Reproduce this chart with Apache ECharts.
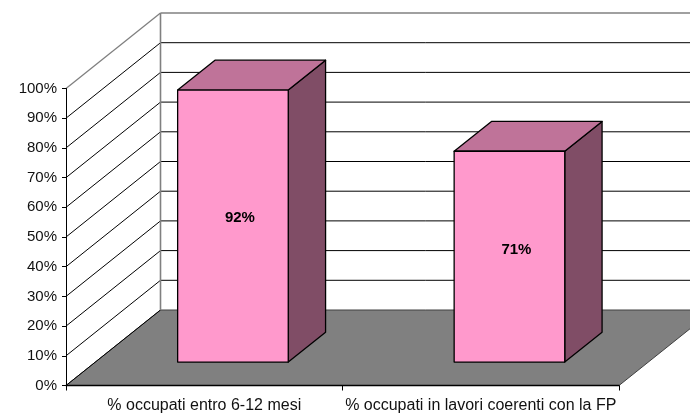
<!DOCTYPE html>
<html>
<head>
<meta charset="utf-8">
<style>
  html, body { margin: 0; padding: 0; background: #fff; }
  #chart { width: 690px; height: 414px; }
</style>
<script src="https://cdn.jsdelivr.net/npm/echarts@6/dist/echarts.min.js"></script>
</head>
<body>
<div id="chart"></div>
<script>
const categories = ['% occupati entro 6-12 mesi', '% occupati in lavori coerenti con la FP']
const percentages = [91.6, 71]
const yTicks = [0, 10, 20, 30, 40, 50, 60, 70, 80, 90, 100]

// proiezione 3D in stile Excel
const DEPTH_X = 94.5
const DEPTH_Y = -75.5
const BAR_WIDTH = 0.4
const BAR_SHIFT = -0.6
const BAR_Z_START = 0.31
const BAR_Z_END = 0.705
const FONT = '"Liberation Sans", Arial, sans-serif'

const chart = echarts.init(document.getElementById('chart'), null, { renderer: 'canvas' })

function shift(p, z) {
  return [p[0] + DEPTH_X * z, p[1] + DEPTH_Y * z]
}

function line(a, b, stroke, lineWidth) {
  return {
    type: 'line',
    shape: { x1: a[0], y1: a[1], x2: b[0], y2: b[1] },
    style: { stroke, lineWidth }
  }
}

function poly(points, fill) {
  return {
    type: 'polygon',
    shape: { points },
    style: { fill, stroke: '#000', lineWidth: 1.3, lineJoin: 'round' }
  }
}

function renderFloor(params, api) {
  const a = api.coord([0, 0])
  a[0] -= api.size([1, 0])[0] / 2
  const b = [a[0] + api.size([1, 0])[0] * categories.length, a[1]]
  return {
    type: 'polygon',
    shape: { points: [a, b, shift(b, 1), shift(a, 1)] },
    style: { fill: '#808080', stroke: '#404040', lineWidth: 1 }
  }
}

function renderWall(params, api) {
  const tick = api.value(1)
  const band = api.size([1, 0])[0]
  const a = api.coord([0, tick])
  a[0] -= band / 2
  const b = [a[0] + band * categories.length, a[1]]
  const color = tick === 100 ? '#808080' : '#000'
  const width = tick === 100 ? 1.3 : 1
  const children = [line(a, shift(a, 1), color, width)]
  if (tick > 0) children.push(line(shift(a, 1), shift(b, 1), color, width))
  if (tick === 100) {
    const base = api.coord([0, 0])
    base[0] -= band / 2
    children.push(line(shift(base, 1), shift(a, 1), '#808080', 1.6))
  }
  return { type: 'group', children }
}

function renderBar(params, api) {
  const band = api.size([1, 0])[0]
  const w = band * BAR_WIDTH
  const value = api.value(1)
  const bottom = api.coord([api.value(0), 0])
  const top = api.coord([api.value(0), value])
  const left = bottom[0] - w / 2 + BAR_SHIFT
  const fbl = shift([left, bottom[1]], BAR_Z_START)
  const fbr = shift([left + w, bottom[1]], BAR_Z_START)
  const ftl = shift([left, top[1]], BAR_Z_START)
  const ftr = shift([left + w, top[1]], BAR_Z_START)
  const d = BAR_Z_END - BAR_Z_START
  const mid = api.coord([api.value(0), value * 0.53])
  return {
    type: 'group',
    children: [
      poly([fbr, ftr, shift(ftr, d), shift(fbr, d)], '#804D66'),
      poly([ftl, ftr, shift(ftr, d), shift(ftl, d)], '#BF7399'),
      poly([fbl, fbr, ftr, ftl], '#FF99CC'),
      {
        type: 'text',
        style: {
          x: (fbl[0] + fbr[0]) / 2 + 7,
          y: shift(mid, BAR_Z_START)[1],
          text: Math.round(value) + '%',
          fill: '#000',
          font: 'bold 15px ' + FONT,
          align: 'center',
          verticalAlign: 'middle'
        }
      }
    ]
  }
}

chart.setOption({
  animation: false,
  backgroundColor: '#fff',
  grid: { left: 66, right: 71, top: 88.5, bottom: 28.5 },
  xAxis: {
    type: 'category',
    data: categories,
    z: 5,
    axisLine: { lineStyle: { color: '#000', width: 1.3 } },
    axisTick: { show: true, length: 5, lineStyle: { color: '#000' } },
    axisLabel: { interval: 0, color: '#111', fontFamily: FONT, fontSize: 16, margin: 12 }
  },
  yAxis: {
    type: 'value',
    min: 0,
    max: 100,
    interval: 10,
    z: 5,
    splitLine: { show: false },
    axisLine: { show: true, lineStyle: { color: '#000', width: 1 } },
    axisTick: { show: true, length: 4, lineStyle: { color: '#000' } },
    axisLabel: { formatter: '{value}%', color: '#111', fontFamily: FONT, fontSize: 15, margin: 9 }
  },
  series: [
    {
      type: 'custom',
      name: 'pavimento',
      z: 1,
      silent: true,
      clip: false,
      renderItem: renderFloor,
      data: [[0, 0]]
    },
    {
      type: 'custom',
      name: 'griglia',
      z: 2,
      silent: true,
      clip: false,
      renderItem: renderWall,
      data: yTicks.map(t => [0, t])
    },
    {
      type: 'custom',
      name: 'occupati',
      z: 3,
      clip: false,
      renderItem: renderBar,
      data: percentages.map((v, i) => [i, v])
    }
  ]
})
</script>
</body>
</html>
